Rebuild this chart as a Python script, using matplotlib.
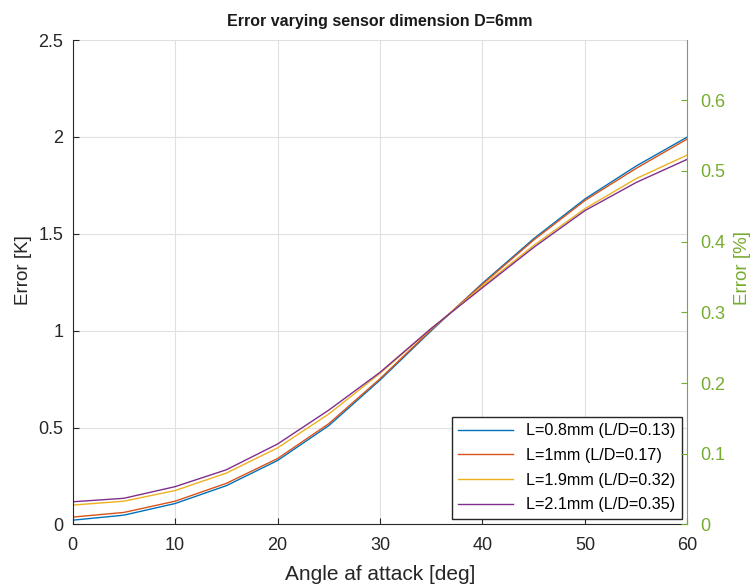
import numpy as np
import matplotlib.pyplot as plt

plt.rcParams['font.family'] = ['Liberation Sans', 'DejaVu Sans']

# angle of attack [deg]
alpha = [0, 5, 10, 15, 20, 25, 30, 35, 40, 45, 50, 55, 60]

# temperature error [K] for each sensor length
err_08 = [0.022, 0.048, 0.108, 0.200, 0.330, 0.510, 0.745, 1.000, 1.245, 1.475, 1.680, 1.850, 2.000]
err_10 = [0.038, 0.062, 0.120, 0.212, 0.340, 0.520, 0.752, 1.005, 1.240, 1.468, 1.672, 1.838, 1.990]
err_19 = [0.100, 0.120, 0.175, 0.265, 0.395, 0.570, 0.780, 1.010, 1.230, 1.440, 1.630, 1.785, 1.907]
err_21 = [0.117, 0.135, 0.195, 0.282, 0.415, 0.590, 0.785, 1.012, 1.222, 1.430, 1.620, 1.765, 1.885]

labels = ['L=0.8mm (L/D=0.13)', 'L=1mm (L/D=0.17)',
          'L=1.9mm (L/D=0.32)', 'L=2.1mm (L/D=0.35)']
colors = ['#0072BD', '#D95319', '#EDB120', '#7E2F8E']
green = '#77AC30'

# reference temperature used for the percent axis
T_ref = 365.0

fig = plt.figure(figsize=(7.53, 5.86), dpi=100)
ax = fig.add_axes([0.0963, 0.105, 0.8167, 0.8267])

for y, lab, c in zip([err_08, err_10, err_19, err_21], labels, colors):
    ax.plot(alpha, y, color=c, lw=1.0, label=lab)

ax.set_xlim(0, 60)
ax.set_ylim(0, 2.5)
ax.set_xticks(np.arange(0, 61, 10))
ax.set_yticks([0, 0.5, 1, 1.5, 2, 2.5])
ax.set_yticklabels(['0', '0.5', '1', '1.5', '2', '2.5'])
ax.grid(True, color='#e0e0e0', lw=0.8)
ax.set_axisbelow(True)
ax.tick_params(direction='in', length=4, labelsize=13, colors='#262626')
ax.tick_params(axis='x', pad=9)
ax.tick_params(axis='y', pad=6.5)
ax.spines['top'].set_visible(False)
ax.spines['right'].set_visible(False)
for s in ['left', 'bottom']:
    ax.spines[s].set_color('#262626')
ax.set_xlabel('Angle af attack [deg]', fontsize=15, color='#262626', labelpad=8)
ax.set_ylabel('Error [K]', fontsize=13.5, color='#262626')
ax.yaxis.set_label_coords(-0.066, 0.525)
ax.set_title('Error varying sensor dimension D=6mm', fontsize=11.5,
             fontweight='bold', color='#1a1a1a', pad=10)

ax2 = ax.twinx()
ax2.set_ylim(0, 2.5 / T_ref * 100)
ax2.set_yticks(np.arange(0, 0.61, 0.1))
ax2.set_yticklabels(['0', '0.1', '0.2', '0.3', '0.4', '0.5', '0.6'])
ax2.tick_params(direction='in', length=4, labelsize=13, colors=green, pad=9)
for s in ['top', 'left', 'bottom']:
    ax2.spines[s].set_visible(False)
ax2.spines['right'].set_color(green)
ax2.set_ylabel('Error [%]', fontsize=13.5, color=green)
ax2.yaxis.set_label_coords(1.076, 0.53)

leg = ax.legend(loc='lower right', fontsize=11.6, handlelength=3.4,
                fancybox=False, framealpha=1, edgecolor='#262626',
                borderaxespad=0.35, labelspacing=0.6, borderpad=0.4)
leg.get_frame().set_linewidth(1.0)
leg.set_zorder(5)

fig.savefig('out.png', dpi=100)
